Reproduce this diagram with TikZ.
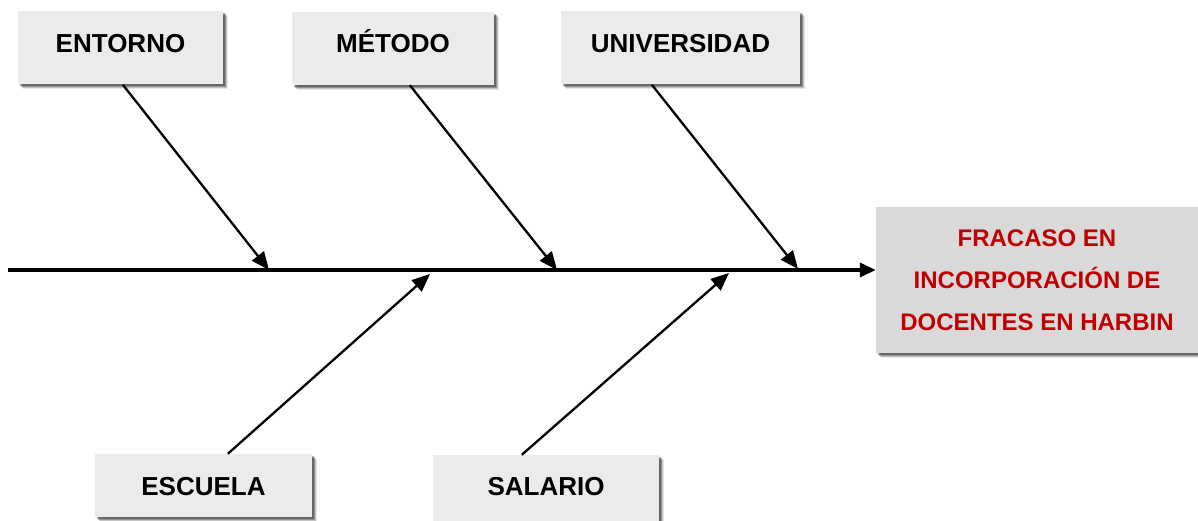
\documentclass[tikz,border=0pt]{standalone}
\usepackage{fontspec}
\setmainfont{Liberation Sans}
\usetikzlibrary{shadows,calc,arrows.meta}
\definecolor{boxgray}{HTML}{EBEBEB}
\definecolor{effgray}{HTML}{D9D9D9}
\definecolor{effred}{HTML}{C00000}
\begin{document}
\begin{tikzpicture}[x=1pt,y=-1pt,
  shadowed/.style={
    drop shadow={shadow xshift=4.5pt,shadow yshift=-5pt,fill=black,opacity=0.10},
    drop shadow={shadow xshift=3.5pt,shadow yshift=-4pt,fill=black,opacity=0.15},
    drop shadow={shadow xshift=2.5pt,shadow yshift=-3pt,fill=black,opacity=0.25},
    drop shadow={shadow xshift=1.5pt,shadow yshift=-2pt,fill=black,opacity=0.30}},
  cause/.style={shadowed,draw=none,fill=boxgray,inner sep=0pt,
    font=\fontsize{26}{30}\selectfont\bfseries,text height=19pt},
  effect/.style={shadowed,draw=none,fill=effgray,inner sep=0pt,align=center,
    text=effred,font=\fontsize{24}{42}\selectfont\bfseries},
  spine/.style={line width=3.4pt,-{Triangle[length=16pt,width=14pt]}},
  bone/.style={line width=2.3pt,-{Triangle[length=18pt,width=15pt]}}]
\useasboundingbox (0,0) rectangle (1198,521);
% cause boxes
\node[cause,minimum width=205pt,minimum height=73pt,text depth=10pt] (ent) at (120.5,48) {ENTORNO};
\node[cause,minimum width=202pt,minimum height=73pt,text depth=10pt] (met) at (393,48.5) {MÉTODO};
\node[cause,minimum width=239pt,minimum height=73pt,text depth=10pt] (uni) at (680.5,48) {UNIVERSIDAD};
\node[cause,minimum width=217pt,minimum height=63pt,text depth=0pt] (esc) at (203.5,485.5) {ESCUELA};
\node[cause,minimum width=226pt,minimum height=70pt,text depth=9pt] (sal) at (546,490) {SALARIO};
% effect box
\node[effect,minimum width=322pt,minimum height=146pt] (eff) at (1037,280)
  {FRACASO EN\\INCORPORACIÓN DE\\DOCENTES EN HARBIN};
% spine
\coordinate (tail) at (8,270);
\draw[spine] (tail) -- (tail -| eff.west);
% bone ends on the spine
\coordinate (e1) at (269,270);
\coordinate (e2) at (557,270);
\coordinate (e3) at (798,269);
\coordinate (e4) at (430,274);
\coordinate (e5) at (729,273);
\draw[bone] ($(ent.south west)+(105,0)$) -- (e1);
\draw[bone] ($(met.south west)+(118,0)$) -- (e2);
\draw[bone] ($(uni.south west)+(91,0)$) -- (e3);
\draw[bone] ($(esc.north west)+(133,0)$) -- (e4);
\draw[bone] ($(sal.north west)+(89,0)$) -- (e5);
\end{tikzpicture}
\end{document}
